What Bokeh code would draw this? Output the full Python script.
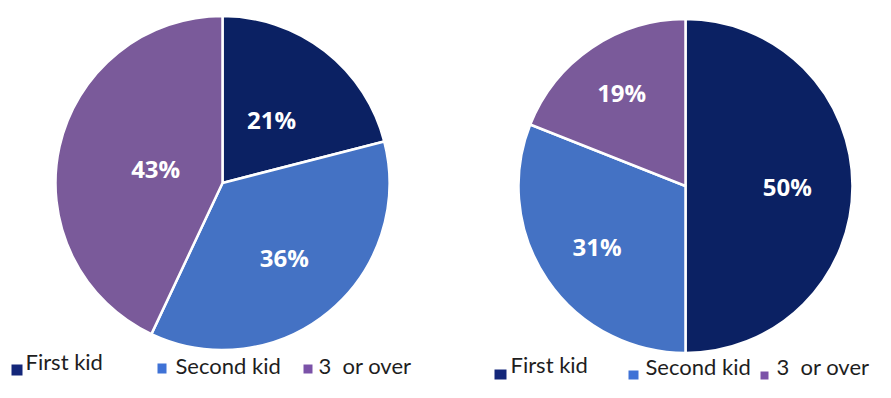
import math
from bokeh.plotting import figure
from bokeh.models import Range1d, ColumnDataSource
from bokeh.core.properties import value
from bokeh.embed import file_html
from bokeh.resources import INLINE

# ---- data ----
categories = ["First kid", "Second kid", "3\u00a0\u00a0or over"]
left_values = [21, 36, 43]
right_values = [50, 31, 19]
colors = ["#0B2163", "#4472C4", "#7A5A9A"]
legend_colors = ["#14277A", "#3F72D6", "#7B52A8"]

# ---- layout (picture pixel coordinates, y measured downward) ----
W, H = 875, 382
def Y(py):
    return H - py

pies = [
    dict(values=left_values, cx=222, cy=182.5, r=167, lab_r=[0.48, 0.58, 0.41]),
    dict(values=right_values, cx=685, cy=185.5, r=167, lab_r=[0.61, 0.64, 0.68]),
]
# squares: (x0, x1, y_top, y_bottom); texts: (x, vertical middle)
legend_rows = [
    dict(sq=[(11, 22, 364, 375), (157, 166, 363, 373), (303, 312, 364, 373)],
         tx=[(25, 361), (175, 365), (318, 365)]),
    dict(sq=[(494, 506, 369, 379), (628, 638, 370, 379), (760, 768, 371, 379)],
         tx=[(510, 364), (645, 366), (776, 366)]),
]

p = figure(width=W, height=H, output_backend="svg", toolbar_location=None,
           x_range=Range1d(0, W), y_range=Range1d(0, H),
           min_border=0)
p.axis.visible = False
p.grid.visible = False
p.outline_line_color = None
p.background_fill_color = "white"

for pie in pies:
    vals = pie["values"]
    total = sum(vals)
    starts, ends, lx, ly, labels = [], [], [], [], []
    acc = 0.0
    for i, v in enumerate(vals):
        a0 = math.pi / 2 - 2 * math.pi * acc / total
        a1 = math.pi / 2 - 2 * math.pi * (acc + v) / total
        mid = (a0 + a1) / 2
        starts.append(a0)
        ends.append(a1)
        lx.append(pie["cx"] + pie["lab_r"][i] * pie["r"] * math.cos(mid))
        ly.append(Y(pie["cy"]) + pie["lab_r"][i] * pie["r"] * math.sin(mid))
        labels.append(f"{v}%")
        acc += v
    src = ColumnDataSource(dict(start=starts, end=ends, color=colors,
                                lx=lx, ly=ly, label=labels))
    p.wedge(x=pie["cx"], y=Y(pie["cy"]), radius=pie["r"],
            start_angle="start", end_angle="end", direction="clock",
            fill_color="color", line_color="white", line_width=2.5, source=src)
    p.text(x="lx", y="ly", text="label", source=src, text_color="white",
           text_font=value("Open Sans"), text_font_style="bold",
           text_font_size="24px", text_align="center", text_baseline="middle")

for row in legend_rows:
    for i, cat in enumerate(categories):
        x0, x1, y0, y1 = row["sq"][i]
        p.quad(left=x0, right=x1, top=Y(y0), bottom=Y(y1),
               fill_color=legend_colors[i], line_color=None)
        tx, ty = row["tx"][i]
        p.text(x=[tx], y=[Y(ty)], text=[cat], text_color="#1e1e1e",
               text_font=value("Lato"), text_font_size="22px",
               text_align="left", text_baseline="middle")

open("out.html", "w").write(file_html(p, INLINE))
